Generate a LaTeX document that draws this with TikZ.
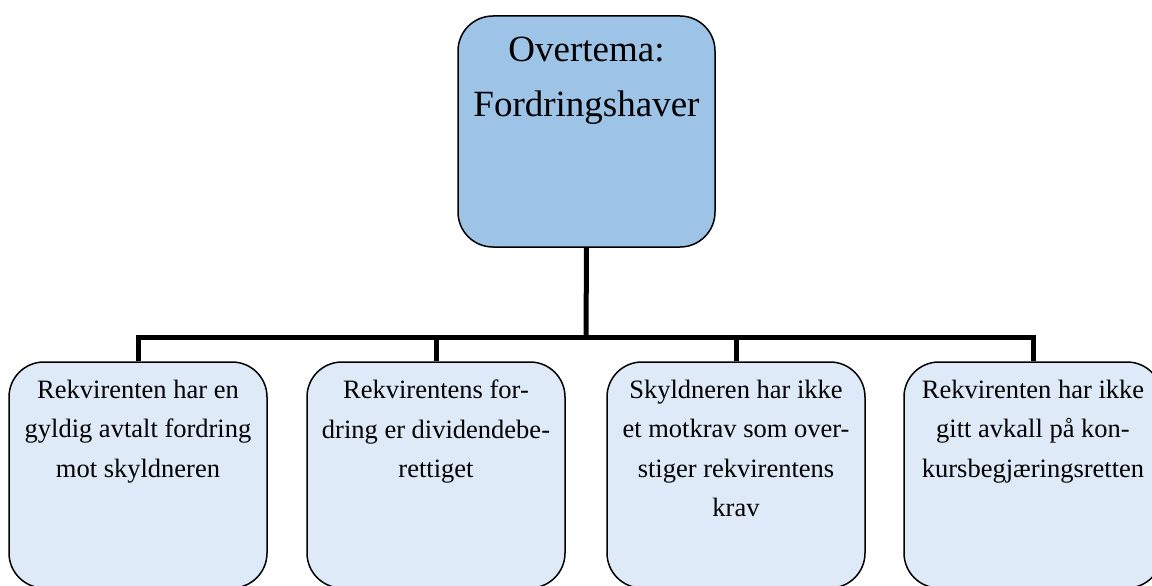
\documentclass[tikz,border=0pt]{standalone}
\usepackage{fontspec}
\setmainfont{Liberation Serif}
\definecolor{topfill}{HTML}{9DC3E6}
\definecolor{botfill}{HTML}{DEEAF7}
\tikzset{
  topbox/.style={draw, line width=1.5pt, rounded corners=35pt, fill=topfill, inner sep=0pt, font=\fontsize{37}{55}\selectfont},
  botbox/.style={draw, line width=1.5pt, rounded corners=35pt, fill=botfill, inner sep=0pt, font=\fontsize{26.5}{39.5}\selectfont},
  conn/.style={line width=5pt}
}
\newcommand{\topcontent}[1]{\parbox[t][231pt][t]{257pt}{\centering\vspace*{21pt}#1}}
\newcommand{\botcontent}[1]{\parbox[t][226pt][t]{258pt}{\centering\vspace*{18pt}#1}}
\begin{document}
\begin{tikzpicture}[x=1pt,y=-1pt]
\useasboundingbox (0,0) rectangle (1152,586);
\clip (0,0) rectangle (1152,586);
\node[topbox] (top) at (586.5,131.5) {\topcontent{Overtema:\\Fordringshaver}};
\node[botbox] (b1) at (138,475) {\botcontent{Rekvirenten har en\\gyldig avtalt fordring\\mot skyldneren}};
\node[botbox] (b2) at (436,475) {\botcontent{Rekvirentens for-\\dring er dividendebe-\\rettiget}};
\node[botbox] (b3) at (736,475) {\botcontent{Skyldneren har ikke\\et motkrav som over-\\stiger rekvirentens\\krav}};
\node[botbox] (b4) at (1033,475) {\botcontent{Rekvirenten har ikke\\gitt avkall på kon-\\kursbegjæringsretten}};
\coordinate (bus) at (586,337);
\draw[conn] (top.south) -- (bus);
\draw[conn] (b1.north) -- (b1.north |- bus) -- (b4.north |- bus) -- (b4.north);
\draw[conn] (b2.north) -- (b2.north |- bus);
\draw[conn] (b3.north) -- (b3.north |- bus);
\end{tikzpicture}
\end{document}
